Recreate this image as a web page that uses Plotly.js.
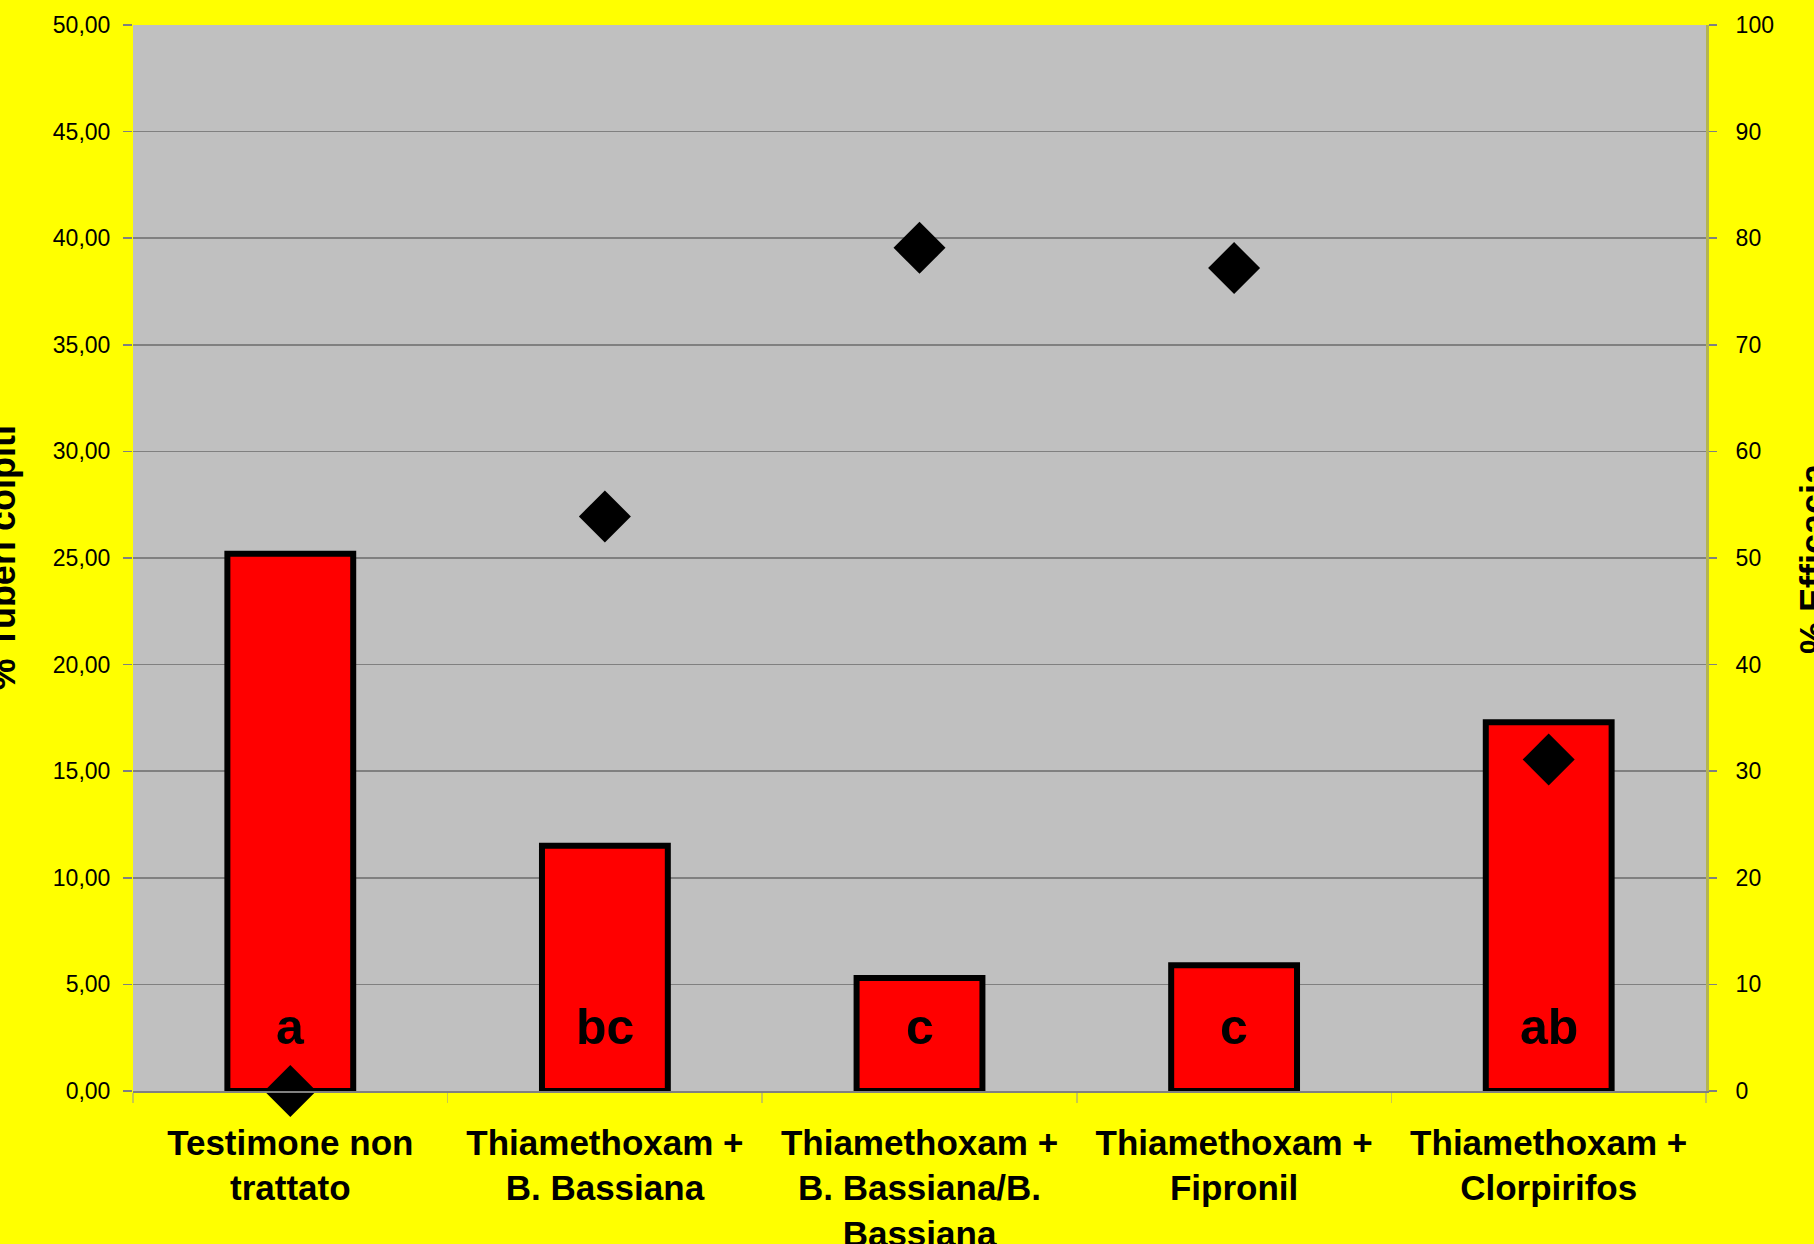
<!DOCTYPE html>
<html>
<head>
<meta charset="utf-8">
<script src="https://cdn.plot.ly/plotly-3.0.1.min.js"></script>
<style>html,body{margin:0;padding:0;background:#FFFF00;}#chart{width:1814px;height:1244px;}</style>
</head>
<body>
<div id="chart"></div>
<script>
// Data
const categories = [
  "Testimone non<br>trattato",
  "Thiamethoxam +<br>B. Bassiana",
  "Thiamethoxam +<br>B. Bassiana/B.<br>Bassiana",
  "Thiamethoxam +<br>Fipronil",
  "Thiamethoxam +<br>Clorpirifos"
];
const tuberiColpiti = [25.2, 11.5, 5.3, 5.9, 17.3];   // % tuberi colpiti (left axis)
const efficacia = [0, 53.9, 79.1, 77.2, 31.1];        // % efficacia (right axis)
const letters = ["a", "bc", "c", "c", "ab"];          // significance letters

const FONT = "Arial, 'Liberation Sans', sans-serif";

const traces = [
  {
    type: "bar",
    x: categories,
    y: tuberiColpiti,
    width: 0.4,
    marker: { color: "#FF0000", line: { color: "#000000", width: 6 } },
    yaxis: "y",
    hoverinfo: "skip"
  },
  {
    type: "scatter",
    mode: "markers",
    x: categories,
    y: efficacia,
    yaxis: "y2",
    marker: { symbol: "diamond", size: 40, color: "#000000" },
    cliponaxis: false,
    hoverinfo: "skip"
  }
];

const annotations = letters.map((t, i) => ({
  x: categories[i], y: 3.0, xref: "x", yref: "y",
  text: t, showarrow: false, xanchor: "center", yanchor: "middle",
  font: { family: FONT, size: 50, color: "#000000", weight: "bold" }
}));

annotations.push({
  text: "<b>% Tuberi colpiti</b>", textangle: -90, showarrow: false,
  xref: "paper", yref: "paper", x: -0.083, y: 0.5, xanchor: "center", yanchor: "middle",
  font: { family: FONT, size: 36, color: "#000000" }
});
annotations.push({
  text: "<b>% Efficacia</b>", textangle: -90, showarrow: false,
  xref: "paper", yref: "paper", x: 1.068, y: 0.5, xanchor: "center", yanchor: "middle",
  font: { family: FONT, size: 36, color: "#000000" }
});

const layout = {
  width: 1814, height: 1244,
  margin: { l: 133, r: 108, t: 25, b: 153, pad: 0 },
  paper_bgcolor: "#FFFF00",
  plot_bgcolor: "#C0C0C0",
  separators: ",.",
  showlegend: false,
  font: { family: FONT, color: "#000000" },
  xaxis: {
    type: "category",
    tickson: "boundaries",
    ticks: "outside", ticklen: 10, tickcolor: "#C8C850", tickwidth: 1.5,
    showline: true, linecolor: "#808080", linewidth: 1.5,
    showgrid: false, zeroline: false,
    tickfont: { family: FONT, size: 35, color: "#000000", weight: "bold" },
    ticklabelstandoff: 20,
    fixedrange: true
  },
  yaxis: {
    range: [0, 50], dtick: 5, tick0: 0, tickformat: ".2f",
    ticks: "outside", ticklen: 9, tickcolor: "#808080", tickwidth: 1.5,
    showgrid: true, gridcolor: "#808080", gridwidth: 1.5,
    zeroline: false, showline: false,
    tickfont: { family: FONT, size: 23, color: "#000000" },
    ticklabelstandoff: 8
  },
  yaxis2: {
    range: [0, 100], dtick: 10, tick0: 0, tickformat: "d",
    overlaying: "y", side: "right",
    ticks: "outside", ticklen: 8, tickcolor: "#808080", tickwidth: 1.5,
    showgrid: false, zeroline: false,
    showline: true, linecolor: "#B4B450", linewidth: 3,
    tickfont: { family: FONT, size: 23, color: "#000000" },
    ticklabelstandoff: 14
  },
  annotations: annotations
};

Plotly.newPlot("chart", traces, layout, { staticPlot: true, displayModeBar: false });
</script>
</body>
</html>
